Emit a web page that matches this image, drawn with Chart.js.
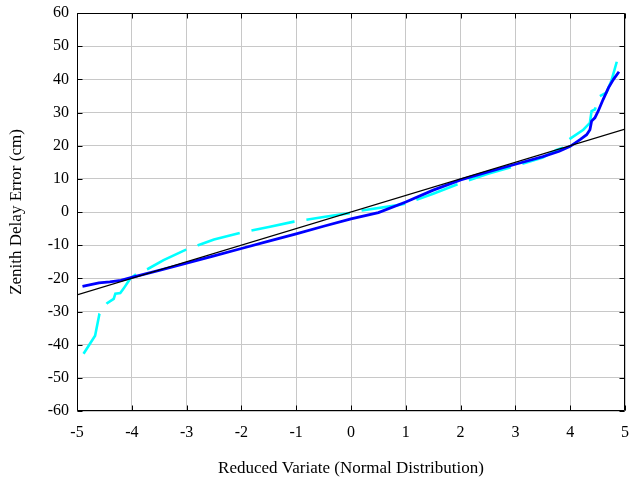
<!DOCTYPE html>
<html><head><meta charset="utf-8">
<script src="https://cdn.jsdelivr.net/npm/chart.js@4"></script>
<style>html,body{margin:0;padding:0;background:#fff}#wrap{width:631px;height:479px}</style>
</head><body><div id="wrap"><canvas id="c" width="631" height="479"></canvas></div>
<script>
// Reference straight line
const refX = [-5, 5];
const refY = [-25, 25];

// Blue solid series
const blueX = [-4.9, -4.6, -4.4, -4.2, -4.0, -3.5, -3.0, -2.5, -2.0, -1.5, -1.0, -0.5, 0.0, 0.5, 1.0, 1.5, 2.0, 2.5, 3.0, 3.5, 3.8, 4.0, 4.18, 4.30, 4.36, 4.39, 4.45, 4.51, 4.60, 4.70, 4.79, 4.89];
const blueY = [-22.4, -21.4, -21.1, -20.6, -19.7, -17.6, -15.4, -13.2, -11.0, -8.8, -6.6, -4.3, -2.1, -0.2, 3.0, 6.6, 9.7, 12.1, 14.4, 16.7, 18.3, 19.8, 21.8, 23.3, 24.8, 27.4, 28.4, 30.4, 33.9, 37.5, 40.0, 42.3];

// Cyan dashed series
const cyanX = [-4.91, -4.67, -4.59, -4.45, -4.33, -4.30, -4.21, -4.15, -4.03, -3.91, -3.70, -3.42, -3.03, -2.79, -2.50, -2.00, -1.50, -1.04, -0.50, 0.00, 0.16, 0.83, 1.00, 1.50, 2.00, 2.50, 3.00, 3.50, 3.75, 3.94, 3.97, 4.24, 4.36, 4.39, 4.45, 4.54, 4.66, 4.75, 4.85];
const cyanY = [-43.5, -37.3, -30.7, -27.5, -26.2, -24.6, -24.4, -23.1, -20.1, -18.6, -17.1, -14.5, -11.5, -10.0, -8.3, -6.2, -4.5, -2.9, -1.5, -0.3, 0.4, 2.0, 2.5, 5.5, 8.7, 11.5, 13.9, 16.4, 18.7, 19.8, 21.8, 24.8, 26.9, 30.4, 30.9, 34.9, 36.0, 39.5, 45.3];

// Axis tick labels
const xTickVals = [-5, -4, -3, -2, -1, 0, 1, 2, 3, 4, 5];
const yTickVals = [-60, -50, -40, -30, -20, -10, 0, 10, 20, 30, 40, 50, 60];

const xTitle = 'Reduced Variate (Normal Distribution)';
const yTitle = 'Zenith Delay Error (cm)';

const toPts = (xs, ys) => xs.map((x, i) => ({x: x, y: ys[i]}));
const FONT = 'Liberation Serif';

const boxPlugin = {
  id: 'box',
  afterDatasetsDraw(chart) {
    const {ctx, chartArea: a, scales: {x, y}} = chart;
    const L = Math.round(a.left) + 0.5, R = Math.round(a.right) - 0.5;
    const T = Math.round(a.top) + 0.5, B = Math.round(a.bottom) - 0.5;
    ctx.save();
    ctx.strokeStyle = '#000';
    ctx.lineWidth = 1;
    ctx.beginPath();
    ctx.rect(L, T, R - L, B - T);
    const tl = 5;
    xTickVals.forEach(v => {
      const px = Math.round(x.getPixelForValue(v)) + 0.5;
      ctx.moveTo(px, B); ctx.lineTo(px, B - tl);
      ctx.moveTo(px, T); ctx.lineTo(px, T + tl);
    });
    yTickVals.forEach(v => {
      const py = Math.round(y.getPixelForValue(v)) + 0.5;
      ctx.moveTo(L, py); ctx.lineTo(L + tl, py);
      ctx.moveTo(R, py); ctx.lineTo(R - tl, py);
    });
    ctx.stroke();
    ctx.restore();
  }
};

function noPad(s) { s.paddingTop = 0; s.paddingBottom = 0; s.paddingLeft = 0; s.paddingRight = 0; }

new Chart(document.getElementById('c'), {
  type: 'scatter',
  data: {
    datasets: [
      {data: toPts(refX, refY), showLine: true, borderColor: '#000000', borderWidth: 1.2, pointRadius: 0, order: 0},
      {data: toPts(blueX, blueY), showLine: true, borderColor: '#0000ff', borderWidth: 2.8, pointRadius: 0, order: 1},
      {data: toPts(cyanX, cyanY), showLine: true, borderColor: '#00ffff', borderWidth: 2.6, borderDash: [44, 12], borderDashOffset: -3, pointRadius: 0, order: 2}
    ]
  },
  options: {
    responsive: false,
    animation: false,
    devicePixelRatio: 1,
    layout: {padding: {top: 13, right: 6, left: 0, bottom: 0}},
    plugins: {legend: {display: false}, tooltip: {enabled: false}},
    scales: {
      x: {
        type: 'linear', min: -5, max: 5,
        afterBuildTicks(s) { s.ticks = xTickVals.map(v => ({value: v})); },
        ticks: {color: '#000', font: {family: FONT, size: 16}, padding: 12, maxRotation: 0, autoSkip: false},
        grid: {color: '#c8c8c8', lineWidth: 1, drawTicks: false},
        border: {display: false},
        title: {display: true, text: xTitle, color: '#000', font: {family: FONT, size: 17}, padding: {top: 0, bottom: 0}},
        afterFit(s) { s.height = 68; noPad(s); }
      },
      y: {
        type: 'linear', min: -60, max: 60,
        afterBuildTicks(s) { s.ticks = yTickVals.map(v => ({value: v})); },
        ticks: {color: '#000', font: {family: FONT, size: 16}, padding: 8, autoSkip: false},
        grid: {color: '#c8c8c8', lineWidth: 1, drawTicks: false},
        border: {display: false},
        title: {display: true, text: yTitle, color: '#000', font: {family: FONT, size: 17}, padding: {top: 6, bottom: 0}},
        afterFit(s) { s.width = 77; noPad(s); }
      }
    }
  },
  plugins: [boxPlugin]
});
</script>
</body></html>
